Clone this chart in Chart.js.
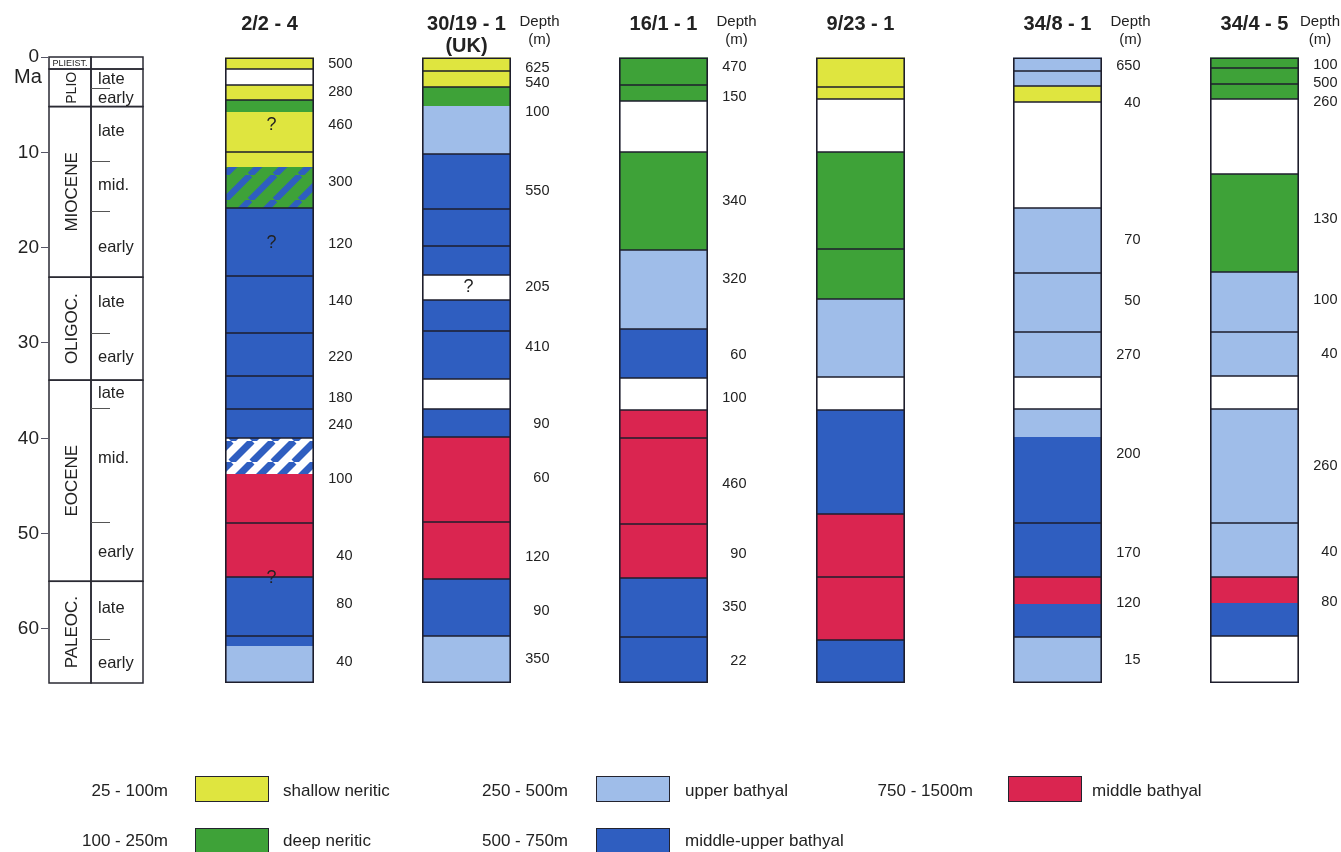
<!DOCTYPE html>
<html>
<head>
<meta charset="utf-8">
<script src="https://cdn.jsdelivr.net/npm/chart.js@4.4.1/dist/chart.umd.min.js"></script>
<style>
  html, body { margin: 0; padding: 0; background: #fff; overflow: hidden; }
  #wrap { position: relative; width: 1341px; height: 852px; overflow: hidden; }
  #c { position: absolute; left: 0; top: 0; }
  .lg { position: absolute; font-family: "Liberation Sans", Arial, sans-serif; font-size: 17px; color: #222; line-height: 20px; white-space: nowrap; }
  .sw { position: absolute; box-sizing: border-box; border: 1.5px solid #23232e; }
</style>
</head>
<body>
<div id="wrap">
  <canvas id="c" width="1341" height="852"></canvas>
  <div id="legend"></div>
</div>
<script>
// ---------------- DATA ----------------
const wells = [['2/2 - 4'], ['30/19 - 1', '(UK)'], ['16/1 - 1'], ['9/23 - 1'], ['34/8 - 1'], ['34/4 - 5']];
const depthHeader = [false, true, true, false, true, true];
const yTicks = [0, 10, 20, 30, 40, 50, 60];
const baseMa = 65.67;

// Timescale (Ma)
const epochNames  = ['PLIEIST.', 'PLIO', 'MIOCENE', 'OLIGOC.', 'EOCENE', 'PALEOC.'];
const epochBounds = [0, 1.26, 5.2, 23.1, 33.9, 55.0, 65.67];
const subBounds   = [3.25, 10.9, 16.2, 29.0, 36.8, 48.8, 61.1];
const subNames    = ['late', 'early', 'late', 'mid.', 'early', 'late', 'early', 'late', 'mid.', 'early', 'late', 'early'];
const subMa       = [2.31, 4.30, 7.76, 13.43, 19.93, 25.8, 31.47, 35.25, 42.07, 51.93, 57.8, 63.67];

// Facies codes: SN shallow neritic, DN deep neritic, UB upper bathyal,
// MUB middle-upper bathyal, MB middle bathyal, GAP no record,
// HDN hatched deep neritic / middle-upper bathyal, HGAP hatched middle-upper bathyal / gap
const facies_2_2_4 = [[0,1.26,'SN'],[1.26,2.94,'GAP'],[2.94,4.51,'SN'],[4.51,5.77,'DN'],[5.77,11.54,'SN'],[11.54,15.84,'HDN'],[15.84,39.97,'MUB'],[39.97,43.74,'HGAP'],[43.74,54.55,'MB'],[54.55,61.79,'MUB'],[61.79,65.67,'UB']];
const breaks_2_2_4 = [0,1.26,2.94,4.51,9.97,15.84,22.97,28.95,33.46,36.92,39.97,48.88,54.55,60.74,65.67];
const depthAt_2_2_4 = [0.73,3.67,7.13,13.1,19.6,25.6,31.5,35.8,38.6,44.3,52.3,57.4,63.5];
const depth_2_2_4 = ['500','280','460','300','120','140','220','180','240','100','40','80','40'];
const query_2_2_4 = [7.1, 19.5, 54.7];

const facies_30_19_1 = [[0,3.15,'SN'],[3.15,5.14,'DN'],[5.14,10.18,'UB'],[10.18,22.87,'MUB'],[22.87,25.49,'GAP'],[25.49,33.78,'MUB'],[33.78,36.92,'GAP'],[36.92,39.86,'MUB'],[39.86,54.76,'MB'],[54.76,60.74,'MUB'],[60.74,65.67,'UB']];
const breaks_30_19_1 = [0,1.47,3.15,10.18,15.94,19.83,22.87,25.49,28.74,33.78,36.92,39.86,48.78,54.76,60.74,65.67];
const depthAt_30_19_1 = [1.15,2.73,5.77,14.06,24.13,30.42,38.5,44.2,52.45,58.1,63.15];
const depth_30_19_1 = ['625','540','100','550','205','410','90','60','120','90','350'];
const query_30_19_1 = [24.13];

const facies_16_1_1 = [[0,4.62,'DN'],[4.62,9.97,'GAP'],[9.97,20.25,'DN'],[20.25,28.53,'UB'],[28.53,33.67,'MUB'],[33.67,37.03,'GAP'],[37.03,54.65,'MB'],[54.65,65.67,'MUB']];
const breaks_16_1_1 = [0,2.94,4.62,9.97,20.25,28.53,33.67,37.03,39.97,48.99,54.65,60.84,65.67];
const depthAt_16_1_1 = [1.05,4.2,15.1,23.3,31.3,35.8,44.8,52.1,57.7,63.4];
const depth_16_1_1 = ['470','150','340','320','60','100','460','90','350','22'];
const query_16_1_1 = [];

const facies_9_23_1 = [[0,4.41,'SN'],[4.41,9.97,'GAP'],[9.97,25.39,'DN'],[25.39,33.57,'UB'],[33.57,37.03,'GAP'],[37.03,47.94,'MUB'],[47.94,61.16,'MB'],[61.16,65.67,'MUB']];
const breaks_9_23_1 = [0,3.15,4.41,9.97,20.14,25.39,33.57,37.03,47.94,54.55,61.16,65.67];
const depthAt_9_23_1 = [];
const depth_9_23_1 = [];
const query_9_23_1 = [];

const facies_34_8_1 = [[0,3.04,'UB'],[3.04,4.72,'SN'],[4.72,15.84,'GAP'],[15.84,33.57,'UB'],[33.57,36.92,'GAP'],[36.92,39.86,'UB'],[39.86,54.55,'MUB'],[54.55,57.38,'MB'],[57.38,60.84,'MUB'],[60.84,65.67,'UB']];
const breaks_34_8_1 = [0,1.47,3.04,4.72,15.84,22.66,28.85,33.57,36.92,48.88,54.55,60.84,65.67];
const depthAt_34_8_1 = [0.94,4.83,19.2,25.6,31.3,41.6,52.0,57.3,63.3];
const depth_34_8_1 = ['650','40','70','50','270','200','170','120','15'];
const query_34_8_1 = [];

const facies_34_4_5 = [[0,4.41,'DN'],[4.41,12.27,'GAP'],[12.27,22.55,'DN'],[22.55,33.46,'UB'],[33.46,36.92,'GAP'],[36.92,54.55,'UB'],[54.55,57.27,'MB'],[57.27,60.74,'MUB'],[60.74,65.67,'GAP']];
const breaks_34_4_5 = [0,1.15,2.83,4.41,12.27,22.55,28.85,33.46,36.92,48.88,54.55,60.74,65.67];
const depthAt_34_4_5 = [0.84,2.73,4.72,17.0,25.5,31.2,42.9,51.9,57.2];
const depth_34_4_5 = ['100','500','260','130','100','40','260','40','80'];
const query_34_4_5 = [];

// Legend
const legendRange = ['25 - 100m', '100 - 250m', '250 - 500m', '500 - 750m', '750 - 1500m'];
const legendName  = ['shallow neritic', 'deep neritic', 'upper bathyal', 'middle-upper bathyal', 'middle bathyal'];
const legendCode  = ['SN', 'DN', 'UB', 'MUB', 'MB'];

// ---------------- ASSEMBLY ----------------
const wellFacies  = [facies_2_2_4, facies_30_19_1, facies_16_1_1, facies_9_23_1, facies_34_8_1, facies_34_4_5];
const wellBreaks  = [breaks_2_2_4, breaks_30_19_1, breaks_16_1_1, breaks_9_23_1, breaks_34_8_1, breaks_34_4_5];
const wellDepthAt = [depthAt_2_2_4, depthAt_30_19_1, depthAt_16_1_1, depthAt_9_23_1, depthAt_34_8_1, depthAt_34_4_5];
const wellDepth   = [depth_2_2_4, depth_30_19_1, depth_16_1_1, depth_9_23_1, depth_34_8_1, depth_34_4_5];
const wellQuery   = [query_2_2_4, query_30_19_1, query_16_1_1, query_9_23_1, query_34_8_1, query_34_4_5];

const FONT = '"Liberation Sans", Arial, Helvetica, sans-serif';
const COL = { SN: '#dfe53f', DN: '#3ea238', UB: '#9fbde9', MUB: '#2f5ec0', MB: '#da2550', GAP: '#ffffff' };

function stripes(bg, fg, period, width) {
  const c = document.createElement('canvas');
  c.width = period; c.height = period;
  const g = c.getContext('2d');
  g.fillStyle = bg; g.fillRect(0, 0, period, period);
  g.strokeStyle = fg; g.lineWidth = width / Math.SQRT2;
  g.beginPath();
  for (const k of [-period, 0, period]) { g.moveTo(k, period); g.lineTo(k + period, 0); }
  g.stroke();
  return g.createPattern(c, 'repeat');
}
const FILL = Object.assign({}, COL, {
  HDN: stripes(COL.DN, COL.MUB, 25, 9),
  HGAP: stripes('#ffffff', COL.MUB, 21, 10)
});

// Layout (style) constants
const PITCH = 197, FIRST = 269.5, AREA_L = 48, AREA_R = 1330, AREA_T = 57, AREA_B = 683;
const xMin = -(FIRST - AREA_L) / PITCH;
const xMax = xMin + (AREA_R - AREA_L) / PITCH;
const barPct = 89 / PITCH;

const barCommon = { type: 'bar', grouped: false, categoryPercentage: 1, barPercentage: barPct, borderSkipped: false };

const datasets = [];
Object.keys(FILL).forEach(code => {
  const data = [];
  wellFacies.forEach((segs, i) => segs.forEach(s => { if (s[2] === code) data.push({ x: i, y: [s[0], s[1]] }); }));
  datasets.push(Object.assign({}, barCommon, { label: code, data, backgroundColor: FILL[code], borderWidth: 0, order: 3 }));
});
const unitData = [];
wellBreaks.forEach((b, i) => { for (let k = 0; k < b.length - 1; k++) unitData.push({ x: i, y: [b[k], b[k + 1]] }); });
datasets.push(Object.assign({}, barCommon, { label: 'units', data: unitData, backgroundColor: 'rgba(0,0,0,0)', borderColor: '#1e1e2c', borderWidth: 0.75, order: 2 }));
datasets.push(Object.assign({}, barCommon, {
  label: 'frame', data: wellBreaks.map((b, i) => ({ x: i, y: [b[0], b[b.length - 1]] })),
  backgroundColor: 'rgba(0,0,0,0)', borderColor: '#1e1e2c', borderWidth: 1.6, order: 1
}));

const annot = {
  id: 'annot',
  afterDatasetsDraw(chart) {
    const { ctx, chartArea, scales: { x, y } } = chart;
    ctx.save();
    ctx.fillStyle = '#222';
    // ---- timescale ----
    const L = chartArea.left, x0 = L + 1, x1 = L + 43, x2 = L + 95;
    ctx.strokeStyle = '#2a2a33'; ctx.lineWidth = 1.5;
    for (let i = 0; i < epochNames.length; i++) {
      const t = y.getPixelForValue(epochBounds[i]), b = y.getPixelForValue(epochBounds[i + 1]);
      ctx.strokeRect(x0, t, x1 - x0, b - t);
      ctx.strokeRect(x1, t, x2 - x1, b - t);
      const cy = (t + b) / 2, cx = (x0 + x1) / 2;
      if (i === 0) {
        ctx.font = '9px ' + FONT; ctx.textAlign = 'center'; ctx.textBaseline = 'middle';
        ctx.fillText(epochNames[i], cx, cy + 0.5);
      } else {
        ctx.save();
        ctx.translate(cx + 2, cy); ctx.rotate(-Math.PI / 2);
        ctx.font = (epochNames[i] === 'PLIO' ? 14 : 17) + 'px ' + FONT;
        ctx.textAlign = 'center'; ctx.textBaseline = 'middle';
        ctx.fillText(epochNames[i], 0, 0);
        ctx.restore();
      }
    }
    ctx.lineWidth = 1; ctx.strokeStyle = '#555';
    subBounds.forEach(v => {
      const p = Math.round(y.getPixelForValue(v)) + 0.5;
      ctx.beginPath(); ctx.moveTo(x1, p); ctx.lineTo(x1 + 19, p); ctx.stroke();
    });
    ctx.font = '16.5px ' + FONT; ctx.textAlign = 'left'; ctx.textBaseline = 'middle';
    subNames.forEach((n, k) => ctx.fillText(n, x1 + 7, y.getPixelForValue(subMa[k])));
    // Ma unit label
    ctx.font = '20px ' + FONT; ctx.textAlign = 'center';
    ctx.fillText('Ma', L - 20, y.getPixelForValue(0) + 20);
    // ---- depth labels ----
    wells.forEach((w, i) => {
      const cx = x.getPixelForValue(i);
      ctx.font = '14.5px ' + FONT; ctx.textAlign = 'right'; ctx.textBaseline = 'middle';
      wellDepth[i].forEach((d, k) => ctx.fillText(d, cx + 83, y.getPixelForValue(wellDepthAt[i][k])));
      if (depthHeader[i]) {
        ctx.font = '15px ' + FONT; ctx.textAlign = 'center';
        const hx = Math.min(cx + 73, chart.width - 21);
        ctx.fillText('Depth', hx, 22);
        ctx.fillText('(m)', hx, 40);
      }
      ctx.font = '18px ' + FONT; ctx.textAlign = 'center';
      wellQuery[i].forEach(q => ctx.fillText('?', cx + 2, y.getPixelForValue(q)));
    });
    ctx.restore();
  }
};

new Chart(document.getElementById('c'), {
  data: { datasets },
  options: {
    responsive: false,
    animation: false,
    layout: { padding: { left: 0, right: 1341 - AREA_R, top: 0, bottom: 852 - AREA_B } },
    plugins: { legend: { display: false }, tooltip: { enabled: false } },
    scales: {
      x: {
        type: 'linear', position: 'top', min: xMin, max: xMax, offset: false,
        afterBuildTicks: s => { s.ticks = wells.map((_, i) => ({ value: i })); },
        afterFit: s => { s.height = AREA_T; },
        ticks: {
          callback: v => wells[v], autoSkip: false, maxRotation: 0, crossAlign: 'far', padding: -8,
          color: '#222', font: { family: FONT, size: 20, weight: 'bold', lineHeight: 1.1 }
        },
        grid: { display: false, offset: false }, border: { display: false }
      },
      y: {
        type: 'linear', reverse: true, min: 0, max: baseMa,
        afterBuildTicks: s => { s.ticks = yTicks.map(v => ({ value: v })); },
        afterFit: s => { s.width = AREA_L; },
        ticks: { color: '#222', padding: 2, autoSkip: false, font: { family: FONT, size: 19 } },
        grid: { drawOnChartArea: false, drawTicks: true, tickLength: 7, color: '#556', lineWidth: 1 },
        border: { display: false }
      }
    }
  },
  plugins: [annot]
});

// ---------------- HTML LEGEND ----------------
const lgRangeRight = [168, 568, 973], lgSwLeft = [195, 596, 1008], lgTextLeft = [283, 685, 1092];
const lgSwTop = [776, 828], lgTextMid = [791, 841];
const lg = document.getElementById('legend');
legendCode.forEach((code, i) => {
  const c = Math.floor(i / 2), r = i % 2;
  const rng = document.createElement('div');
  rng.className = 'lg'; rng.textContent = legendRange[i];
  rng.style.right = (1341 - lgRangeRight[c]) + 'px'; rng.style.top = (lgTextMid[r] - 10) + 'px';
  lg.appendChild(rng);
  const sw = document.createElement('div');
  sw.className = 'sw'; sw.style.background = COL[code];
  sw.style.left = lgSwLeft[c] + 'px'; sw.style.top = lgSwTop[r] + 'px';
  sw.style.width = '74px'; sw.style.height = '26px';
  lg.appendChild(sw);
  const nm = document.createElement('div');
  nm.className = 'lg'; nm.textContent = legendName[i];
  nm.style.left = lgTextLeft[c] + 'px'; nm.style.top = (lgTextMid[r] - 10) + 'px';
  lg.appendChild(nm);
});
</script>
</body>
</html>
